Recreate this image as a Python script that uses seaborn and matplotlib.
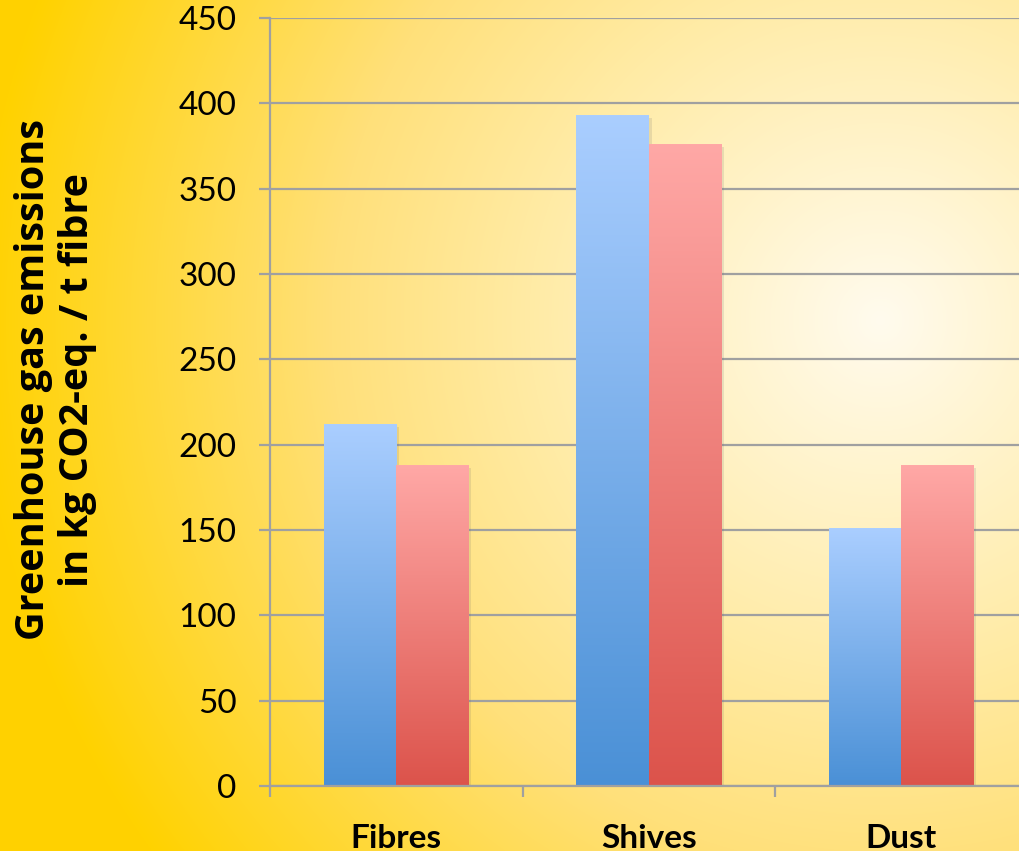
import numpy as np
import pandas as pd
import matplotlib
matplotlib.use("Agg")
import matplotlib.pyplot as plt
import matplotlib.patheffects as pe
import seaborn as sns

# Emissions per tonne of fibre, by fraction
categories = ["Fibres", "Shives", "Dust"]
series_names = ["Series 1", "Series 2"]
series_1 = [212, 393, 151]
series_2 = [188, 376, 188]
y_ticks = [0, 50, 100, 150, 200, 250, 300, 350, 400, 450]

df = pd.DataFrame({
    "fraction": categories * 2,
    "series": [series_names[0]] * 3 + [series_names[1]] * 3,
    "value": series_1 + series_2,
})

sns.set_theme(style="white")
plt.rcParams["font.family"] = ["Lato", "DejaVu Sans"]

W, H, DPI = 1019, 851, 100
fig = plt.figure(figsize=(W / DPI, H / DPI), dpi=DPI)

# Warm radial background, brightest towards the upper right
bg = fig.add_axes([0, 0, 1, 1], zorder=-1)
yy, xx = np.mgrid[0:H, 0:W]
d = np.hypot(xx - 880, yy - 320) / 900.0
stops = [0.0, 0.39, 0.61, 1.0]
r = np.full_like(d, 1.0)
g = np.interp(d, stops, [251, 235, 224, 210]) / 255
b = np.interp(d, stops, [238, 165, 122, 0]) / 255
bg.imshow(np.dstack([r, g, b]), extent=[0, 1, 0, 1], aspect="auto", origin="upper")
bg.set_axis_off()

left, bottom = 270 / W, (H - 786) / H
ax = fig.add_axes([left, bottom, 757.5 / W, 768 / H])
ax.set_facecolor("none")

blue_top, blue_bot = np.array([170, 206, 255]) / 255, np.array([74, 144, 214]) / 255
red_top, red_bot = np.array([255, 168, 166]) / 255, np.array([220, 83, 75]) / 255

sns.barplot(data=df, x="fraction", y="value", hue="series", order=categories,
            hue_order=series_names, palette=[tuple(blue_bot), tuple(red_bot)],
            width=0.574, gap=0, legend=False, ax=ax, errorbar=None)

# Vertical gradient fill for each bar, plus a soft drop shadow
n = 256
for p in list(ax.patches):
    fc = np.array(p.get_facecolor()[:3])
    is_blue = np.linalg.norm(fc - blue_bot) < np.linalg.norm(fc - red_bot)
    top, bot = (blue_top, blue_bot) if is_blue else (red_top, red_bot)
    t = np.linspace(0, 1, n)[:, None]
    grad = (top[None, :] * (1 - t) + bot[None, :] * t)[:, None, :]
    x0, w, h = p.get_x(), p.get_width(), p.get_height()
    ax.imshow(grad, extent=[x0, x0 + w, 0, h], aspect="auto", origin="upper",
              zorder=2, interpolation="bilinear")
    p.set_facecolor("none")
    p.set_edgecolor("none")
    p.set_path_effects([pe.SimplePatchShadow(offset=(2, -2), shadow_rgbFace="0.4", alpha=0.15)])
ax.set_xlim(-0.5, 2.5)
ax.set_ylim(0, 450)

grid_c = "#a0a0a0"
ax.set_axisbelow(True)
ax.yaxis.grid(True, color=grid_c, linewidth=1.6)
ax.xaxis.grid(False)
for s in ["top", "right"]:
    ax.spines[s].set_visible(False)
for s in ["left", "bottom"]:
    ax.spines[s].set_color(grid_c)
    ax.spines[s].set_linewidth(1.6)

ax.set_yticks(y_ticks)
ax.set_yticklabels([str(v) for v in y_ticks])
ax.tick_params(axis="y", length=8, width=1.6, color=grid_c, labelsize=24,
               pad=16, labelcolor="black", left=True)

ax.set_xticks(range(len(categories)))
ax.set_xticklabels(categories, fontweight="bold")
ax.tick_params(axis="x", which="major", length=0, labelsize=24, pad=27,
               labelcolor="black")
ax.set_xticks([-0.5, 0.5, 1.5, 2.5], minor=True)
ax.tick_params(axis="x", which="minor", length=8, width=1.6, color=grid_c,
               bottom=True)

ax.set_xlabel("")
ax.set_ylabel("Greenhouse gas emissions\nin kg CO2-eq. / t fibre",
              fontsize=28.5, fontweight="bold", color="black", linespacing=1.15,
              family=["Open Sans", "DejaVu Sans"])
ax.yaxis.label.set_va("center")
ax.yaxis.set_label_coords(-0.283, 0.529)

fig.savefig("out.png", dpi=DPI)
